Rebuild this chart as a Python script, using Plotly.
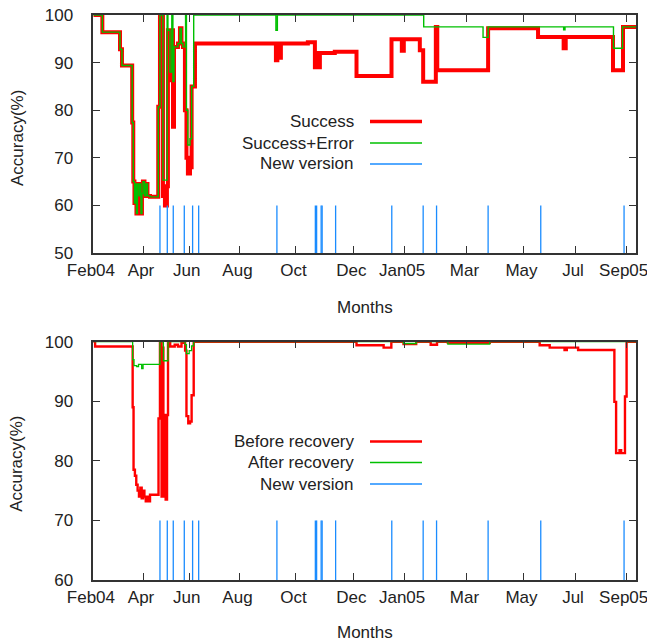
import plotly.graph_objects as go

# ---------------- data (x in days from start of axis) ----------------
month_tick_days = [0, 55.4, 105.8, 162, 224, 288, 344, 413, 476, 533, 589]
month_tick_labels = ["Feb04", "Apr", "Jun", "Aug", "Oct", "Dec", "Jan05", "Mar", "May", "Jul", "Sep05"]

success_day = [0, 10, 29.5, 31.7, 43, 44.2, 45.5, 46.6, 47.7, 48.8, 50.5, 51.6, 52.7, 53.8, 54.9, 56.6,
               58.2, 59.9, 62.7, 71.8, 73.7, 77, 79.2, 81.4, 82.5, 84.8, 87, 88.1, 89.2, 93.6, 95.8, 97.5,
               99.1, 101.3, 103, 104.6, 106.9, 108.7, 112.4, 201.9, 203.5, 205.2, 207.4, 237.2, 245, 247.2,
               248.8, 250.5, 267, 291, 329.7, 341.1, 343.3, 361, 364.7, 378.7, 380.3, 436.5, 491.7, 520,
               522.3, 574.6, 585.6, 600]
success_val = [100, 96.4, 92.8, 89.4, 77.4, 65, 60.5, 64.5, 58.3, 64.5, 62, 64.5, 58.3, 62.5, 65, 62,
               64.5, 62, 61.8, 80.7, 100, 62, 60, 64, 96.8, 86.3, 96.8, 76.5, 93.3, 94, 97.2, 94,
               93.3, 80, 70, 66.7, 68, 85, 94, 90.5, 94, 91, 94, 94.3, 89, 92,
               89, 92, 92.3, 87.2, 94.9, 92.5, 94.9, 92.6, 86, 97.5, 88.4, 97.2, 95.4, 93,
               95.4, 88.4, 97.5, 97.5]

success_error_day = [0, 10, 29.5, 31.7, 43, 44.2, 45.5, 46.6, 47.7, 48.8, 50.5, 51.6, 52.7, 53.8, 54.9,
                     56.6, 58.2, 59.9, 62.7, 71.8, 73.7, 77, 81.6, 82.5, 84.8, 86.8, 88, 89.2, 93.6, 95.8,
                     97.5, 99.1, 102, 103, 104.6, 106.9, 108.7, 111, 201.9, 203.5, 365.3, 430.9, 436.5,
                     520, 521.5, 575.1, 585.1, 600]
success_error_val = [100, 96.4, 92.8, 89.4, 77.4, 65, 60.5, 64.5, 58.3, 64.5, 62, 64.5, 58.3, 62.5, 65,
                     62, 64.5, 62, 61.8, 80.7, 100, 65.3, 100, 96.8, 88, 100, 86, 93.3, 94, 97.2,
                     94, 93.3, 100, 80, 72.7, 74, 85, 100, 96.8, 100, 97.5, 95.3, 97.5,
                     96.9, 97.5, 93, 97.5, 97.5]

before_day = [0, 2, 43.5, 44.5, 46, 47.5, 49, 50.5, 52, 53.5, 55, 56.5, 58, 59.5, 61, 62.7, 72.1, 73.7,
              75.5, 76.5, 77.5, 78.5, 80, 81.5, 82.6, 85, 90, 93.6, 97.5, 101.5, 103, 105, 107, 108.7, 111,
              291, 321, 329.5, 343, 357, 373, 380, 392, 438.3, 493.5, 504.6, 521, 523.5, 536, 576.1, 578,
              581.8, 583.6, 587.8, 589.6, 600]
before_val = [100, 99.2, 89, 78.5, 77.5, 76, 75, 74, 75.5, 73.7, 75, 74, 73.2, 74, 73.2, 74.3, 87.1, 100,
              74, 99, 74, 87.7, 73.5, 87.7, 100, 99.2, 99.5, 99.2, 99.8, 98.5, 87.5, 86.3, 86.6, 91, 100,
              99.4, 99, 100, 99.6, 100, 99.5, 100, 99.8, 100, 99.4, 99, 98.6, 99, 98.6, 89.9, 81.3,
              81.8, 81.3, 90.8, 100, 100]

after_day = [0, 43.5, 45, 48, 50, 53.5, 55, 72.1, 73.7, 77.5, 82.6, 101.5, 103, 106, 108.7, 111, 343, 357,
             392, 438.3, 600]
after_val = [100, 97, 96, 95.8, 96.2, 95.5, 96.2, 96.2, 100, 96.8, 100, 99.5, 98, 98.5, 99.3, 100, 99.7, 100,
             99.6, 100, 100]

version_days = [73.7, 81.8, 88.4, 100.6, 109.8, 116.5, 203, 245.5, 246.9, 251.9, 253, 267.9, 330, 364.7,
                379.5, 436.5, 494.7, 586.8]
version_top = {"top": (50, 60), "bottom": (60, 70)}

# ---------------- figure ----------------
W, H = 647, 643
FONT = "Liberation Sans, Arial, Helvetica, sans-serif"
RED, GREEN, BLUE, AX = "#ff0000", "#00c000", "#1a8cff", "#333333"


def px_x(p):
    return p / W


def px_y(p):
    return 1 - p / H


def impulses(days, lo, hi):
    xs, ys = [], []
    for d in days:
        xs += [d, d, None]
        ys += [lo, hi, None]
    return xs, ys


# labels sit a touch left of their ticks in the reference (trailing no-break space)
tick_text = [t + "\u00a0" for t in month_tick_labels]

fig = go.Figure()
# top plot
fig.add_trace(go.Scatter(x=success_day, y=success_val, mode="lines", line=dict(color=RED, width=4, shape="hv"),
                         xaxis="x", yaxis="y", showlegend=False))
fig.add_trace(go.Scatter(x=success_error_day, y=success_error_val, mode="lines",
                         line=dict(color=GREEN, width=1.4, shape="hv"), xaxis="x", yaxis="y", showlegend=False))
vx, vy = impulses(version_days, *version_top["top"])
fig.add_trace(go.Scatter(x=vx, y=vy, mode="lines", line=dict(color=BLUE, width=1.3), xaxis="x", yaxis="y",
                         showlegend=False))
# bottom plot
fig.add_trace(go.Scatter(x=before_day, y=before_val, mode="lines", line=dict(color=RED, width=2.4, shape="hv"),
                         xaxis="x2", yaxis="y2", showlegend=False))
fig.add_trace(go.Scatter(x=after_day, y=after_val, mode="lines", line=dict(color=GREEN, width=1.3, shape="hv"),
                         xaxis="x2", yaxis="y2", showlegend=False))
vx2, vy2 = impulses(version_days, *version_top["bottom"])
fig.add_trace(go.Scatter(x=vx2, y=vy2, mode="lines", line=dict(color=BLUE, width=1.3), xaxis="x2", yaxis="y2",
                         showlegend=False))

xdom = [px_x(93.3), px_x(636)]
top_dom = [px_y(253), px_y(15)]
bot_dom = [px_y(580), px_y(341.7)]

axis_common = dict(showline=True, linecolor=AX, linewidth=1.5, mirror="ticks", ticks="inside", ticklen=7,
                   tickwidth=1.2, tickcolor=AX, showgrid=False, zeroline=False, automargin=False,
                   ticklabeloverflow="allow",
                   tickfont=dict(family=FONT, size=17, color="#222222"))

fig.update_layout(
    template="none",
    width=W, height=H, margin=dict(l=0, r=0, t=0, b=0, autoexpand=False),
    paper_bgcolor="white", plot_bgcolor="white",
    xaxis=dict(domain=xdom, range=[0, 600], anchor="y", tickvals=month_tick_days, ticktext=tick_text,
               ticklabelstandoff=1, **axis_common),
    yaxis=dict(domain=top_dom, range=[50, 100], anchor="x", tickvals=[50, 60, 70, 80, 90, 100],
               ticklabelstandoff=15, **axis_common),
    xaxis2=dict(domain=xdom, range=[0, 600], anchor="y2", tickvals=month_tick_days, ticktext=tick_text,
                ticklabelstandoff=1, **axis_common),
    yaxis2=dict(domain=bot_dom, range=[60, 100], anchor="x2", tickvals=[60, 70, 80, 90, 100],
                ticklabelstandoff=15, **axis_common),
)

ann = []
shapes = []
tfont = dict(family=FONT, size=17, color="#222222")
# axis titles
for yc in [(15 + 253) / 2 + 4, (341.7 + 580) / 2 + 3]:
    ann.append(dict(text="Accuracy(%)", x=px_x(17), y=px_y(yc), xref="paper", yref="paper", showarrow=False,
                    textangle=-90, font=tfont, xanchor="center", yanchor="middle"))
for yc in [307, 632]:
    ann.append(dict(text="Months", x=(xdom[0] + xdom[1]) / 2, y=px_y(yc), xref="paper", yref="paper",
                    showarrow=False, font=tfont, xanchor="center", yanchor="middle"))

# legends
legend_top = [("Success", RED, 3.5), ("Success+Error", GREEN, 1.4), ("New version", BLUE, 1.3)]
legend_bot = [("Before recovery", RED, 2.4), ("After recovery", GREEN, 1.3), ("New version", BLUE, 1.3)]
for entries, rows in [(legend_top, [121.5, 143, 164]), (legend_bot, [441.5, 462.5, 484])]:
    for (label, col, w), yr in zip(entries, rows):
        ann.append(dict(text=label, x=px_x(356), y=px_y(yr), xref="paper", yref="paper", showarrow=False,
                        font=tfont, xanchor="right", yanchor="middle"))
        shapes.append(dict(type="line", xref="paper", yref="paper", x0=px_x(370), x1=px_x(422),
                           y0=px_y(yr), y1=px_y(yr), line=dict(color=col, width=w)))

fig.update_layout(annotations=ann, shapes=shapes)
# the page's default 8px body margin would shift the figure and add scrollbars
fig.write_html("out.html", config={"displayModeBar": False},
               post_script="document.body.style.margin='0';document.body.style.overflow='hidden';")
